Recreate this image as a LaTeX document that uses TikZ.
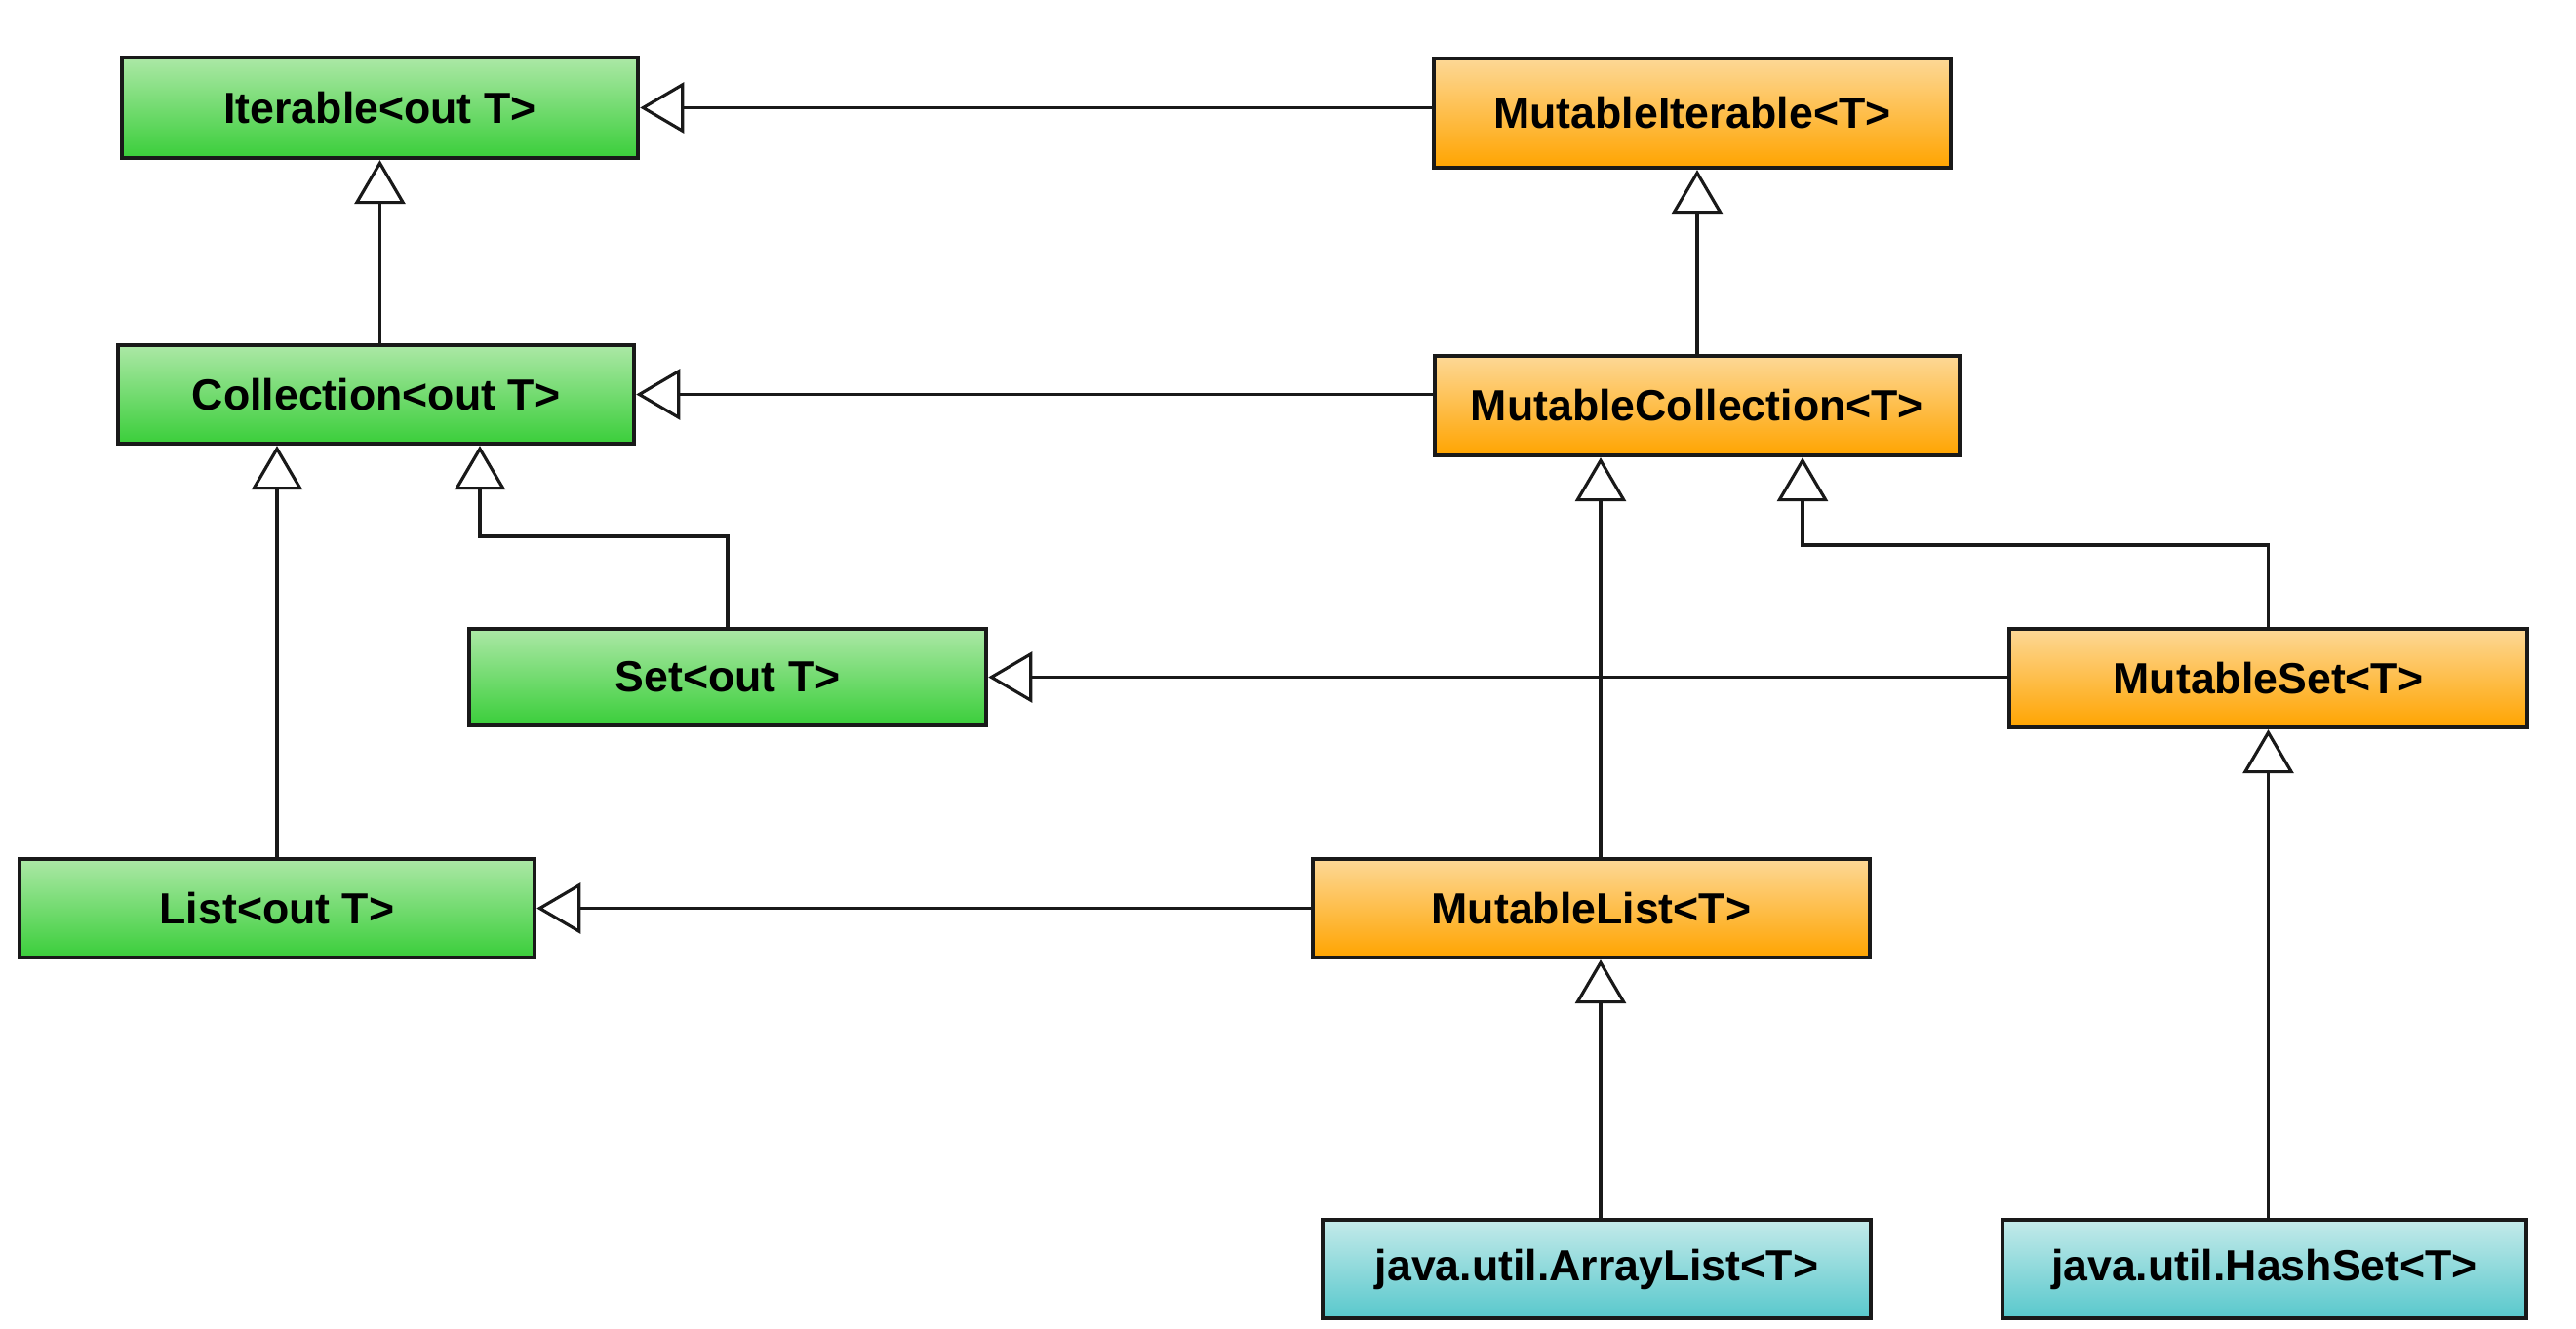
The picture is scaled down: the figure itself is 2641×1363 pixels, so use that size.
\documentclass[tikz,border=0pt]{standalone}
\usepackage{fontspec}
\setmainfont{Liberation Sans}
\usetikzlibrary{arrows.meta}
\definecolor{gTop}{RGB}{172,232,166}
\definecolor{gBot}{RGB}{58,206,58}
\definecolor{oTop}{RGB}{253,216,150}
\definecolor{oBot}{RGB}{255,164,0}
\definecolor{cTop}{RGB}{196,234,234}
\definecolor{cBot}{RGB}{88,200,204}
\tikzset{
  box/.style={draw=black!90, line width=1.2pt, inner sep=0pt, align=center,
    font=\bfseries\fontsize{12.7}{15}\selectfont},
  gbox/.style={box, top color=gTop, bottom color=gBot},
  obox/.style={box, top color=oTop, bottom color=oBot},
  cbox/.style={box, top color=cTop, bottom color=cBot},
  inh/.style={line width=0.9pt, black!90, line join=miter,
    -{Triangle[length=0.45cm, width=0.52cm, fill=white, line width=0.9pt]}}
}
\begin{document}
\begin{tikzpicture}[x=0.01cm, y=-0.01cm]
\useasboundingbox[fill=white] (0,0) rectangle (2641,1363);
% green interfaces
\node[gbox, minimum width=5.29cm, minimum height=1.03cm] (I) at (389.5,110.5) {Iterable<out T>};
\node[gbox, minimum width=5.29cm, minimum height=1.01cm] (C) at (385.5,404.5) {Collection<out T>};
\node[gbox, minimum width=5.30cm, minimum height=0.99cm] (S) at (746,694.5) {Set<out T>};
\node[gbox, minimum width=5.28cm, minimum height=1.01cm] (L) at (284,931.5) {List<out T>};
% orange mutable interfaces
\node[obox, minimum width=5.30cm, minimum height=1.12cm] (MI) at (1735,116) {MutableIterable<T>};
\node[obox, minimum width=5.38cm, minimum height=1.02cm] (MC) at (1740,416) {MutableCollection<T>};
\node[obox, minimum width=5.31cm, minimum height=1.01cm] (MS) at (2325.5,695.5) {MutableSet<T>};
\node[obox, minimum width=5.71cm, minimum height=1.01cm] (ML) at (1631.5,931.5) {MutableList<T>};
% cyan classes
\node[cbox, minimum width=5.62cm, minimum height=1.01cm] (AL) at (1637,1301.5) {java.util.ArrayList<T>};
\node[cbox, minimum width=5.37cm, minimum height=1.01cm] (HS) at (2321.5,1301.5) {java.util.HashSet<T>};
% helper coordinates
\coordinate (xml) at (1641,0);
\coordinate (sbend) at (492,550);
\coordinate (msbend) at (1848,559);
% connectors
\draw[inh] (MI.west |- I.east) -- (I.east);
\draw[inh] (I.south |- C.north) -- (I.south);
\draw[inh] (MC.north) -- (MC.north |- MI.south);
\draw[inh] (MC.west |- C.east) -- (C.east);
\draw[inh] (L.north) -- (L.north |- C.south);
\draw[inh] (S.north) |- (sbend) -- (sbend |- C.south);
\draw[inh] (MS.west |- S.east) -- (S.east);
\draw[inh] (xml |- ML.north) -- (xml |- MC.south);
\draw[inh] (MS.north) |- (msbend) -- (msbend |- MC.south);
\draw[inh] (ML.west |- L.east) -- (L.east);
\draw[inh] (xml |- AL.north) -- (xml |- ML.south);
\draw[inh] (MS.south |- HS.north) -- (MS.south);
\end{tikzpicture}
\end{document}
